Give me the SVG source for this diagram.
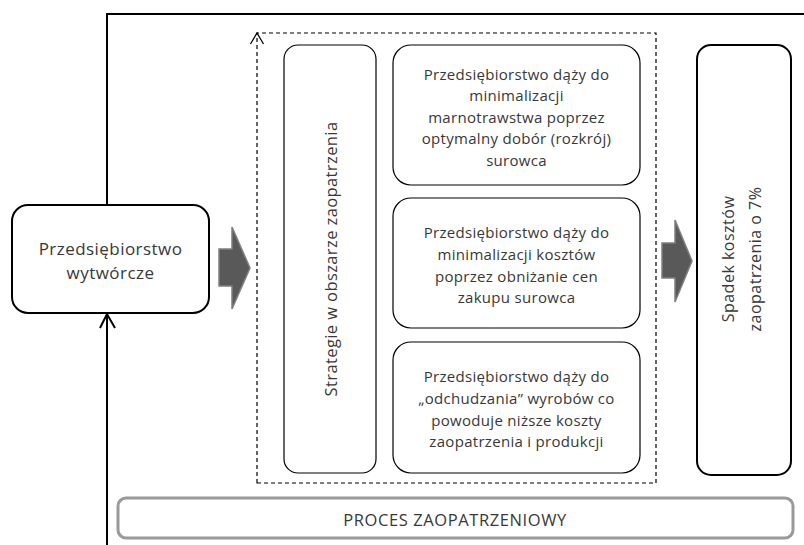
<svg xmlns="http://www.w3.org/2000/svg" width="804" height="545" viewBox="0 0 804 545">
<style>
  .t { font-family: "Open Sans", "DejaVu Sans", sans-serif; fill: #383838; text-anchor: middle; }
  .s { font-size: 15px; letter-spacing: 0.3px; }
  .box { fill: #ffffff; stroke: #000000; }
  .blk { fill: #595959; stroke: #7f7f7f; stroke-width: 1.5; }
  .ln { fill: none; stroke: #000000; }
</style>
<rect width="804" height="545" fill="#ffffff"/>
<g id="connectors">
  <path class="ln" d="M107,205 L107,14 L804,14" stroke-width="2"/>
  <path class="ln" d="M107,545 L107,315" stroke-width="2"/>
  <polyline class="ln" points="100,328 107,314 115,328" stroke-width="2"/>
  <polygon class="blk" points="219,249 232,249 232,227 250,268 232,309 232,286 219,286"/>
  <polygon class="blk" points="662,243 675,243 675,220 692,261 675,302 675,278 662,278"/>
</g>
<g id="frame-dashed">
  <path class="ln" d="M257,483 L257,33 L656,33 L656,483 Z" stroke-width="1.2" stroke-dasharray="4,3"/>
  <polyline class="ln" points="250.5,44 257,33 263.5,44" stroke-width="1.3"/>
</g>
<g id="node-przedsiebiorstwo">
  <rect class="box" x="12" y="205" width="197" height="108" rx="16" stroke-width="2"/>
  <text class="t" x="110.5" y="255" font-size="17" letter-spacing="0.45">Przedsiębiorstwo</text>
  <text class="t" x="110.5" y="279" font-size="17" letter-spacing="0.45">wytwórcze</text>
</g>
<g id="node-strategie">
  <rect class="box" x="284" y="45" width="92" height="428" rx="14" stroke-width="1.2"/>
  <text class="t" font-size="16.5" letter-spacing="0.4" transform="translate(337,259) rotate(-90)">Strategie w obszarze zaopatrzenia</text>
</g>
<g id="node-box1">
  <rect class="box" x="393" y="45" width="247" height="140" rx="18" stroke-width="1.2"/>
  <text class="t s" x="516.5" y="80">Przedsiębiorstwo dąży do</text>
  <text class="t s" x="516.5" y="101">minimalizacji</text>
  <text class="t s" x="516.5" y="123">marnotrawstwa  poprzez</text>
  <text class="t s" x="516.5" y="144">optymalny  dobór (rozkrój)</text>
  <text class="t s" x="516.5" y="166">surowca</text>
</g>
<g id="node-box2">
  <rect class="box" x="393" y="198" width="247" height="130" rx="18" stroke-width="1.2"/>
  <text class="t s" x="516.5" y="238">Przedsiębiorstwo dąży do</text>
  <text class="t s" x="516.5" y="260">minimalizacji  kosztów</text>
  <text class="t s" x="516.5" y="282">poprzez obniżanie cen</text>
  <text class="t s" x="516.5" y="303">zakupu surowca</text>
</g>
<g id="node-box3">
  <rect class="box" x="393" y="342" width="247" height="131" rx="18" stroke-width="1.2"/>
  <text class="t s" x="516.5" y="382">Przedsiębiorstwo dąży do</text>
  <text class="t s" x="516.5" y="404">„odchudzania”  wyrobów co</text>
  <text class="t s" x="516.5" y="426">powoduje niższe  koszty</text>
  <text class="t s" x="516.5" y="447">zaopatrzenia  i produkcji</text>
</g>
<g id="node-spadek">
  <rect class="box" x="697" y="45" width="94" height="430" rx="14" stroke-width="2"/>
  <text class="t" font-size="16" letter-spacing="0.5" transform="translate(734,259) rotate(-90)">Spadek  kosztów</text>
  <text class="t" font-size="16" letter-spacing="0.5" transform="translate(761,259) rotate(-90)">zaopatrzenia o 7%</text>
</g>
<g id="node-proces">
  <rect x="118" y="498" width="675" height="40" rx="8" fill="#ffffff" stroke="#9a9a9a" stroke-width="3"/>
  <text class="t" font-size="16.5" letter-spacing="0.6" x="455" y="526">PROCES ZAOPATRZENIOWY</text>
</g>
</svg>
